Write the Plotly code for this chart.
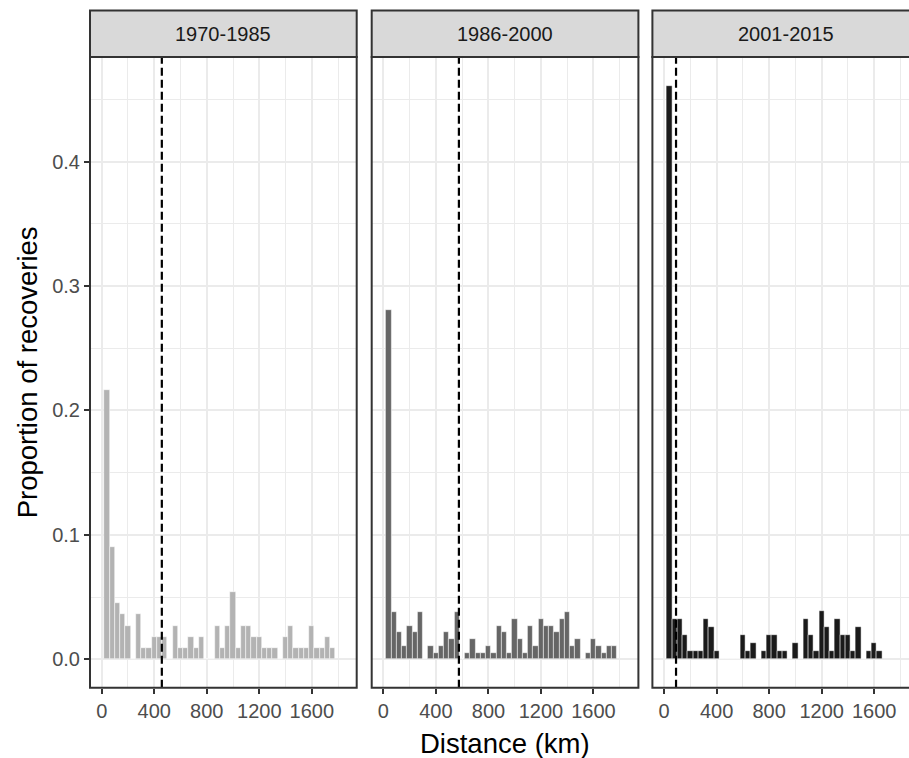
import plotly.graph_objects as go

# ---------------- data ----------------
periods = ["1970-1985", "1986-2000", "2001-2015"]

# histogram bin mid-points (km), bin width 40 km
bin_mid_km = [40, 80, 120, 160, 200, 240, 280, 320, 360, 400,
              440, 480, 520, 560, 600, 640, 680, 720, 760, 800,
              840, 880, 920, 960, 1000, 1040, 1080, 1120, 1160, 1200,
              1240, 1280, 1320, 1360, 1400, 1440, 1480, 1520, 1560, 1600,
              1640, 1680, 1720, 1760]
bin_width_km = 40

# number of recoveries per distance bin
counts_1970 = [24, 10, 5, 4, 3, 0, 4, 1, 1, 2, 2, 2, 0, 3, 1, 1, 2, 1, 2, 0,
               0, 3, 1, 3, 6, 1, 3, 3, 2, 2, 1, 1, 1, 0, 2, 3, 1, 1, 1, 3,
               1, 1, 2, 1]
counts_1986 = [52, 7, 4, 2, 5, 4, 7, 0, 2, 1, 2, 4, 3, 7, 0, 1, 3, 1, 1, 2,
               1, 5, 4, 1, 6, 3, 1, 5, 2, 6, 5, 5, 4, 6, 7, 2, 3, 0, 1, 3,
               2, 1, 2, 2]
counts_2001 = [71, 5, 5, 3, 1, 1, 1, 5, 4, 1, 0, 0, 0, 0, 3, 1, 2, 0, 1, 3,
               3, 1, 1, 0, 2, 0, 5, 3, 1, 6, 4, 1, 5, 3, 3, 1, 4, 0, 1, 2,
               1]
period_counts = [counts_1970, counts_1986, counts_2001]

# dashed reference line per period (km)
median_km = [458, 575, 91]

bar_colors = ["#b3b3b3", "#666666", "#1a1a1a"]

x_ticks = [0, 400, 800, 1200, 1600]
x_minor = [200, 600, 1000, 1400, 1800]
y_ticks = [0.0, 0.1, 0.2, 0.3, 0.4]
y_tick_text = ["0.0", "0.1", "0.2", "0.3", "0.4"]
y_minor = [0.05, 0.15, 0.25, 0.35, 0.45]

# ---------------- layout geometry (pixels) ----------------
W, H = 909, 758
panel_px = [(90.0, 356.7), (371.7, 638.4), (652.4, 919.1)]
panel_top, panel_bot = 57.0, 687.7
strip_top = 10.5
km_per_px = 2031.0 / 266.7
x_left_km = -89.0
y_range = [-0.0228, 0.4841]

FONT = "Liberation Sans, Arial, sans-serif"
GRID = "#ebebeb"
DARK = "#333333"


def fx(px):
    return px / W


def fy(py):
    return 1 - py / H


fig = go.Figure()
layout = dict(
    width=W, height=H,
    margin=dict(l=0, r=0, t=0, b=0),
    paper_bgcolor="white", plot_bgcolor="white",
    showlegend=False,
    font=dict(family=FONT),
    bargap=0,
)
shapes = []
annotations = []

for i, (period, counts) in enumerate(zip(periods, period_counts)):
    n = sum(counts)
    props = [c / n for c in counts]
    sfx = "" if i == 0 else str(i + 1)
    xa, ya = "x" + sfx, "y" + sfx
    fig.add_trace(go.Bar(
        x=bin_mid_km[:len(counts)], y=props, width=bin_width_km,
        marker=dict(color=bar_colors[i], line=dict(color="rgba(255,255,255,0.85)", width=0.6)),
        xaxis=xa, yaxis=ya, hoverinfo="x+y",
    ))
    l_px, r_px = panel_px[i]
    r_dom = min(r_px, W)
    x_range = [x_left_km, x_left_km + (r_dom - l_px) * km_per_px]
    layout["xaxis" + sfx] = dict(
        domain=[fx(l_px), fx(r_dom)], range=x_range, anchor=ya,
        tickvals=x_ticks, ticks="outside", ticklen=5, tickwidth=2, tickcolor=DARK,
        tickfont=dict(size=20, color="#4d4d4d", family=FONT),
        showgrid=True, gridcolor=GRID, gridwidth=2.2, zeroline=False, showline=False,
        minor=dict(tickvals=x_minor, showgrid=True, gridcolor=GRID, gridwidth=1.1, ticks=""),
        fixedrange=True,
    )
    layout["yaxis" + sfx] = dict(
        domain=[fy(panel_bot), fy(panel_top)], range=y_range, anchor=xa,
        tickvals=y_ticks, ticktext=y_tick_text,
        ticks="outside" if i == 0 else "", ticklen=5, tickwidth=2, tickcolor=DARK,
        showticklabels=(i == 0),
        tickfont=dict(size=20, color="#4d4d4d", family=FONT),
        showgrid=True, gridcolor=GRID, gridwidth=2.2, zeroline=False, showline=False,
        minor=dict(tickvals=y_minor, showgrid=True, gridcolor=GRID, gridwidth=1.1, ticks=""),
        fixedrange=True,
    )
    # dashed reference line
    shapes.append(dict(
        type="line", xref=xa, yref=ya + " domain",
        x0=median_km[i], x1=median_km[i], y0=0, y1=1,
        line=dict(color="black", width=2.2, dash="8px,4px"), layer="above",
    ))
    # panel border
    shapes.append(dict(
        type="rect", xref="paper", yref="paper",
        x0=fx(l_px), x1=fx(r_px), y0=fy(panel_bot), y1=fy(panel_top),
        line=dict(color=DARK, width=2), fillcolor="rgba(0,0,0,0)", layer="above",
    ))
    # strip
    shapes.append(dict(
        type="rect", xref="paper", yref="paper",
        x0=fx(l_px), x1=fx(r_px), y0=fy(panel_top), y1=fy(strip_top),
        line=dict(color=DARK, width=2), fillcolor="#d9d9d9", layer="above",
    ))
    annotations.append(dict(
        text=period, xref="paper", yref="paper",
        x=fx((l_px + r_px) / 2), y=fy((strip_top + panel_top) / 2),
        xanchor="center", yanchor="middle", showarrow=False,
        font=dict(size=20, color="#1a1a1a", family=FONT),
    ))

annotations.append(dict(
    text="Distance (km)", xref="paper", yref="paper",
    x=fx((panel_px[0][0] + panel_px[2][1]) / 2), y=fy(743),
    xanchor="center", yanchor="middle", showarrow=False,
    font=dict(size=27.5, color="black", family=FONT),
))
annotations.append(dict(
    text="Proportion of recoveries", xref="paper", yref="paper",
    x=fx(27), y=fy((panel_top + panel_bot) / 2), textangle=-90,
    xanchor="center", yanchor="middle", showarrow=False,
    font=dict(size=27.5, color="black", family=FONT),
))

layout["shapes"] = shapes
layout["annotations"] = annotations
fig.update_layout(**layout)
fig.write_html("out.html")
